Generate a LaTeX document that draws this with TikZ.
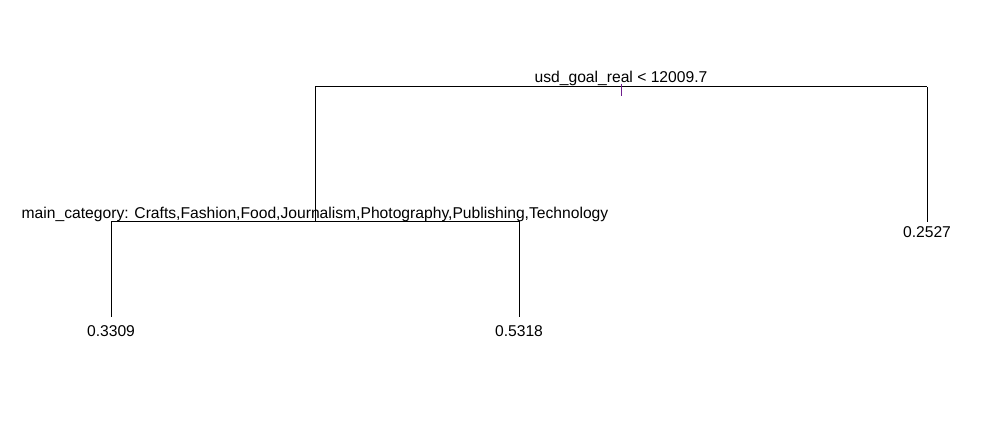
\documentclass[tikz,border=0pt]{standalone}
\usepackage{fontspec}
\setmainfont{Liberation Sans}
\definecolor{tickpurple}{RGB}{110,30,140}
\begin{document}
\begin{tikzpicture}[x=1pt,y=-1pt,
  edge/.style={draw=black,line width=1pt},
  lbl/.style={inner sep=0pt,anchor=base,font=\fontsize{15.65}{18}\selectfont},
  tickmark/.style={draw=tickpurple,line width=1pt}]
\fill[white] (0,0) rectangle (1000,425);
\useasboundingbox (0,0) rectangle (1000,425);
% split points
\coordinate (root) at (621,87);
\coordinate (rootL) at (315,87);
\coordinate (rootR) at (927,87);
\coordinate (n2) at (315,221);
\coordinate (n2L) at (111,221);
\coordinate (n2R) at (519,221);
\coordinate (leafA) at (111,317);
\coordinate (leafB) at (519,317);
\coordinate (leafC) at (927,222);
\coordinate (tickTop) at (621,84);
\coordinate (tickBot) at (621,96);
% edges
\draw[edge] (rootL) -- (rootR);
\draw[edge] (rootL) -- (n2);
\draw[edge] (rootR) -- (leafC);
\draw[edge] (n2L) -- (n2R);
\draw[edge] (n2L) -- (leafA);
\draw[edge] (n2R) -- (leafB);
\draw[tickmark] (tickTop) -- (tickBot);
% labels
\node[lbl] (lroot) at (621,83) {usd\_goal\_real < 12009.7};
\node[lbl] (ln2) at (315,218) {main\_category: Crafts,Fashion,Food,Journalism,Photography,Publishing,Technology};
\node[lbl] (lA) at (111,336) {0.3309};
\node[lbl] (lB) at (519,336) {0.5318};
\node[lbl] (lC) at (927,237) {0.2527};
\end{tikzpicture}
\end{document}
